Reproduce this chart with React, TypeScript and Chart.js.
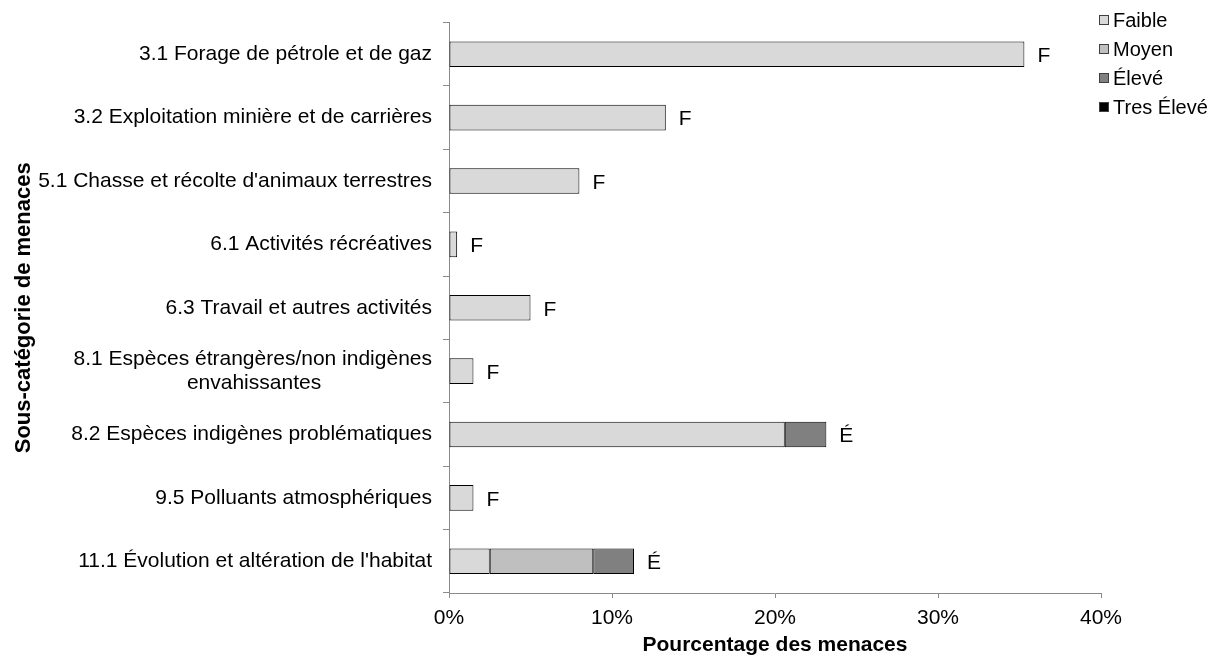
import React, { useEffect, useRef } from "react";
import { Chart, registerables } from "chart.js";

Chart.register(...registerables);

const categories: (string | string[])[] = [
  "3.1 Forage de pétrole et de gaz",
  "3.2 Exploitation minière et de carrières",
  "5.1 Chasse et récolte d'animaux terrestres",
  "6.1 Activités récréatives",
  "6.3 Travail et autres activités",
  ["8.1 Espèces étrangères/non indigènes", "envahissantes" + " ".repeat(19)],
  "8.2 Espèces indigènes problématiques",
  "9.5 Polluants atmosphériques",
  "11.1 Évolution et altération de l'habitat",
];

const faible: (number | null)[] = [35.3, 13.3, 8.0, 0.5, 5.0, 1.5, 20.6, 1.5, 2.5];
const moyen: (number | null)[] = [null, null, null, null, null, null, null, null, 6.35];
const eleve: (number | null)[] = [null, null, null, null, null, null, 2.55, null, 2.5];
const tresEleve: (number | null)[] = [null, null, null, null, null, null, null, null, null];

const impactLabels = ["F", "F", "F", "F", "F", "F", "É", "F", "É"];
const xTicks = [0, 10, 20, 30, 40];

const FONT = "'Liberation Sans', Arial, sans-serif";

const barLabelPlugin = {
  id: "barLabels",
  afterDatasetsDraw(chart: any) {
    const ctx = chart.ctx;
    ctx.save();
    ctx.font = `21px ${FONT}`;
    ctx.fillStyle = "#000";
    ctx.textAlign = "left";
    ctx.textBaseline = "middle";
    for (let i = 0; i < impactLabels.length; i++) {
      let maxX = -Infinity;
      let y = 0;
      chart.data.datasets.forEach((ds: any, di: number) => {
        const v = ds.data[i];
        if (v === null || v === undefined) return;
        const el = chart.getDatasetMeta(di).data[i];
        if (el && el.x > maxX) {
          maxX = el.x;
          y = el.y;
        }
      });
      if (maxX > -Infinity) ctx.fillText(impactLabels[i], maxX + 13, y + 2);
    }
    ctx.restore();
  },
};

const legendPlugin = {
  id: "customLegend",
  afterDraw(chart: any) {
    const ctx = chart.ctx;
    ctx.save();
    ctx.font = `20px ${FONT}`;
    ctx.textAlign = "left";
    ctx.textBaseline = "middle";
    const x0 = 1099;
    const y0 = 20;
    const step = 29;
    chart.data.datasets.forEach((ds: any, i: number) => {
      const cy = y0 + i * step;
      ctx.fillStyle = ds.backgroundColor;
      ctx.fillRect(x0, cy - 5, 10, 10);
      ctx.strokeStyle = "#404040";
      ctx.lineWidth = 1;
      ctx.strokeRect(x0 + 0.5, cy - 4.5, 9, 9);
      ctx.fillStyle = "#000";
      ctx.fillText(ds.label, x0 + 14, cy + 1);
    });
    ctx.restore();
  },
};

export default function App() {
  const ref = useRef<HTMLCanvasElement | null>(null);
  useEffect(() => {
    if (!ref.current) return;
    const mk = (label: string, data: (number | null)[], color: string) => ({
      label,
      data,
      backgroundColor: color,
      borderColor: "#000",
      borderWidth: 1,
      borderSkipped: false,
      categoryPercentage: 0.404,
      barPercentage: 1,
    });
    const chart = new Chart(ref.current, {
      type: "bar",
      data: {
        labels: categories,
        datasets: [
          mk("Faible", faible, "#d9d9d9"),
          mk("Moyen", moyen, "#bfbfbf"),
          mk("Élevé", eleve, "#808080"),
          mk("Tres Élevé", tresEleve, "#000000"),
        ],
      },
      options: {
        indexAxis: "y",
        responsive: false,
        animation: false,
        layout: { padding: { top: 20, right: 116, bottom: 0, left: 0 } },
        plugins: {
          legend: { display: false },
          tooltip: { enabled: false },
        },
        scales: {
          x: {
            stacked: true,
            min: 0,
            max: 40,
            afterFit(scale: any) {
              scale.height = 65;
            },
            afterBuildTicks(scale: any) {
              scale.ticks = xTicks.map((v) => ({ value: v }));
            },
            ticks: {
              callback: (v: any) => `${v}%`,
              color: "#000",
              font: { family: FONT, size: 21 },
              padding: 8,
              maxRotation: 0,
            },
            grid: { drawOnChartArea: false, tickLength: 5, color: "#8a8a8a" },
            border: { color: "#8a8a8a", width: 1 },
            title: {
              display: true,
              text: "Pourcentage des menaces",
              color: "#000",
              font: { family: FONT, size: 21, weight: "bold" },
              padding: { top: 0, bottom: 0 },
            },
          },
          y: {
            stacked: true,
            afterFit(scale: any) {
              scale.width = 449;
            },
            ticks: {
              color: "#000",
              font: { family: FONT, size: 21, lineHeight: 1.1 },
              padding: 11,
              autoSkip: false,
            },
            grid: { drawOnChartArea: false, tickLength: 6, color: "#8a8a8a", offset: true },
            border: { color: "#8a8a8a", width: 1 },
            title: {
              display: true,
              text: "Sous-catégorie de menaces",
              color: "#000",
              font: { family: FONT, size: 22, weight: "bold" },
              padding: { top: 11, bottom: 0 },
            },
          },
        },
      },
      plugins: [barLabelPlugin, legendPlugin],
    } as any);
    return () => chart.destroy();
  }, []);
  return (
    <div style={{ position: "absolute", left: 0, top: 0, width: 1217, height: 658 }}>
      <canvas ref={ref} width={1217} height={658} style={{ display: "block" }} />
    </div>
  );
}
